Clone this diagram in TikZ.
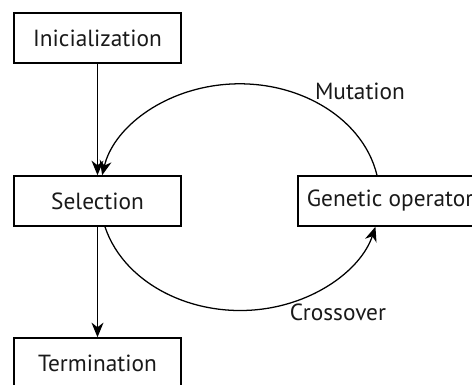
\documentclass[tikz,border=0pt]{standalone}
\usepackage{fontspec}
\setmainfont{PT Sans}
\usetikzlibrary{arrows.meta}
\begin{document}
\begin{tikzpicture}[x=0.75pt,y=-0.75pt,
  txt/.style={font=\fontsize{17.5}{20}\selectfont, text=black!90},
  box/.style={txt, draw, line width=1.1pt, minimum height=37.5pt, minimum width=125.25pt, inner sep=0pt},
  conn/.style={line width=0.95pt, -{Stealth[length=11pt,width=9pt,inset=3.5pt]}}]
\useasboundingbox (0,0) rectangle (472,385);
\clip (0,0) rectangle (472,385);

% process boxes
\node[box] (ini) at (97.5,38) {Inicialization};
\node[box] (sel) at (97.5,201) {Selection};
\node[box] (ter) at (97.5,363) {Termination};
\node[box, minimum width=145.5pt] (gen) at (395,201) {Genetic operators};

% main flow
\draw[conn] (ini.south) -- (sel.north);
\draw[conn] (sel.south) -- (ter.north);

% loop between selection and the genetic operators
\draw[conn] ([xshift=-13.5pt]gen.north)
  arc[start angle=11, end angle=169, x radius=105pt, y radius=84.75pt];
\draw[conn] ([xshift=5.6pt]sel.south)
  arc[start angle=195, end angle=345, x radius=105pt, y radius=84.75pt];

% loop labels
\node[txt] (mut) at (360,91) {Mutation};
\node[txt] (cro) at (338,312) {Crossover};
\end{tikzpicture}
\end{document}
